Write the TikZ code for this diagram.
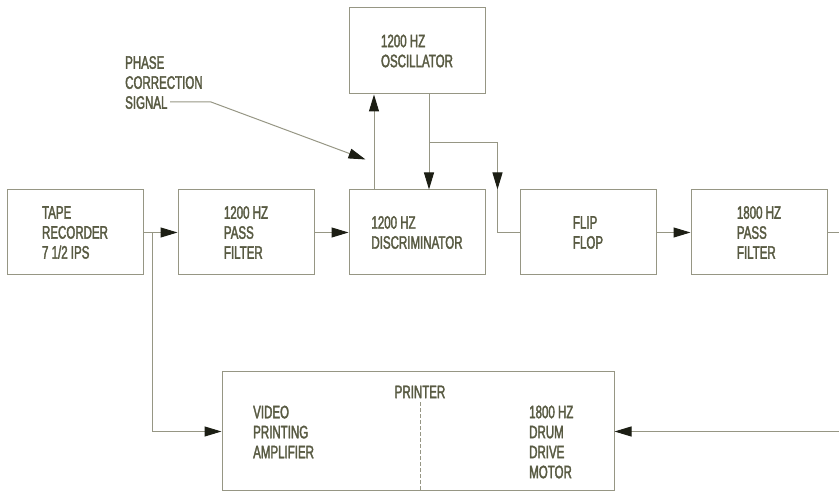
\documentclass[tikz,border=0pt]{standalone}
\usepackage{fontspec}
\setmainfont{Liberation Sans}[FakeStretch=0.64, FakeBold=2]
\usetikzlibrary{arrows.meta,positioning}
\definecolor{inkline}{RGB}{150,150,132}
\definecolor{inktext}{RGB}{88,90,66}
\definecolor{inkhead}{RGB}{28,30,20}
\begin{document}
\begin{tikzpicture}[
  x=1pt, y=1pt,
  font=\fontsize{18}{20}\selectfont,
  blk/.style={draw=inkline, line width=1pt, minimum width=136pt, minimum height=85pt, align=left, text=inktext, inner sep=2pt},
  lbl/.style={align=left, text=inktext, inner sep=1pt},
  wire/.style={draw=inkline, line width=1pt},
  arr/.style={wire, -{Triangle[length=17pt, width=10pt, fill=inkhead, color=inkhead]}},
  divider/.style={draw=inkline, line width=1pt, dashed, dash pattern=on 4pt off 2pt}
]
\useasboundingbox (0,0) rectangle (839,492);

\node[blk] (tape) at (75,259.5) {TAPE\\RECORDER\\7 1/2 IPS};
\node[blk, right=34pt of tape] (filt) {1200 HZ\\PASS\\FILTER};
\node[blk, right=34pt of filt] (disc) {1200 HZ\\DISCRIMINATOR};
\node[blk, right=34pt of disc] (flip) {FLIP\\FLOP};
\node[blk, right=34pt of flip] (pass) {1800 HZ\\PASS\\FILTER};
\node[blk, above=95pt of disc, minimum height=86pt] (osc) {1200 HZ\\OSCILLATOR};

\node[blk, minimum width=392pt, minimum height=119pt] (printer) at (418,60.5) {};
\node[lbl, below=13pt of printer.north, xshift=2pt] (ptitle) {PRINTER};
\node[lbl, anchor=west] (video) at (252,60) {VIDEO\\PRINTING\\AMPLIFIER};
\node[lbl, anchor=west] (drum) at (528,50) {1800 HZ\\DRUM\\DRIVE\\MOTOR};
\draw[divider] ([xshift=2pt, yshift=-31pt]printer.north) -- ([xshift=2pt]printer.south);

\node[lbl, anchor=north west] (phase) at (124,437) {PHASE\\CORRECTION\\SIGNAL};

% free ends and bends
\coordinate (tap) at ([xshift=9pt]tape.east);
\coordinate (split) at ([xshift=12pt, yshift=-48pt]osc.south);
\coordinate (ffin) at ([xshift=-22pt]flip.north west);
\coordinate (sigend) at (170,390);
\coordinate (phin) at ([xshift=17pt, yshift=30pt]disc.north west);
\coordinate (rtop) at (839,0 |- pass.east);
\coordinate (rbot) at (839,0 |- printer.east);

\draw[arr] (tape) -- (filt);
\draw[arr] (tap) |- (printer.west);
\draw[arr] (filt) -- (disc);
\draw[arr] ([xshift=-43pt]disc.north) -- ([xshift=-43pt]osc.south);
\draw[arr] ([xshift=12pt]osc.south) -- ([xshift=12pt]disc.north);
\draw[arr] (split) -| (ffin);
\draw[wire] (ffin) |- (flip.west);
\draw[arr] (flip) -- (pass);
\draw[wire] (pass.east) -- (rtop);
\draw[arr] (rbot) -- (printer.east);
\draw[arr] (sigend) -- ++(41pt,0) -- (phin);

\end{tikzpicture}
\end{document}
